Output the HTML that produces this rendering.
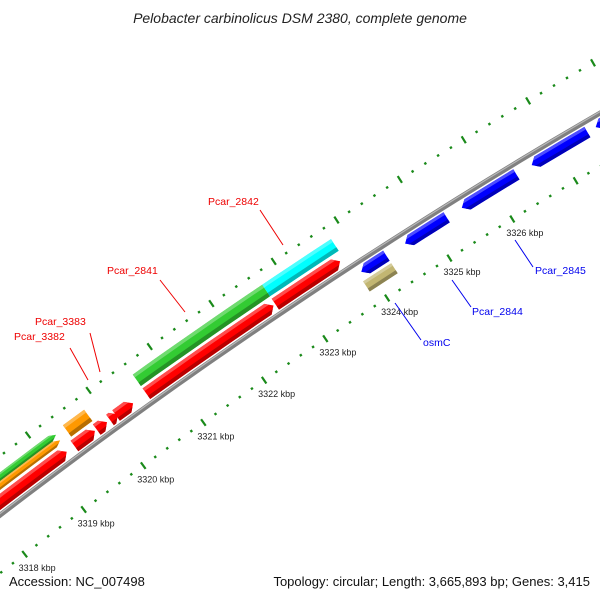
<!DOCTYPE html>
<html><head><meta charset="utf-8"><style>
html,body{margin:0;padding:0;background:#fff;width:600px;height:600px;overflow:hidden;}
svg{display:block;font-family:"Liberation Sans",sans-serif;overflow:hidden;}
</style></head><body>
<svg id="map" width="600" height="600" viewBox="0 0 600 600">
<defs id="defs"></defs>
<text x="300" y="23" text-anchor="middle" font-size="14" font-style="italic" fill="#222">Pelobacter carbinolicus DSM 2380, complete genome</text>
<g id="ticks"></g>
<g id="backbone"></g>
<g id="features"></g>
<g id="labels"></g>
<text x="9" y="586" font-size="13" fill="#111">Accession: NC_007498</text>
<text x="590" y="586" text-anchor="end" font-size="13" fill="#111">Topology: circular; Length: 3,665,893 bp; Genes: 3,415</text>
</svg>
<script>
// data (kbp)
const featStart = [3316.0, 3316.0, 3316.0, 3319.45, 3319.41, 3319.78, 3320.0, 3320.1, 3320.6, 3322.7, 3320.6, 3322.7, 3323.9, 3324.6, 3325.5, 3326.6, 3327.6, 3323.85, 3327.7];
const featEnd   = [3319.3, 3319.3, 3319.28, 3319.8, 3319.75, 3319.95, 3320.13, 3320.38, 3322.67, 3323.74, 3322.7, 3323.8, 3324.3, 3325.26, 3326.36, 3327.47, 3329.0, 3324.3, 3329.0];
const featTrack = ["green-lane", "orange-lane", "red", "gc", "red", "red", "red", "red", "red", "red", "gc", "gc", "blue", "blue", "blue", "blue", "blue", "khaki", "khaki"];
const featColor = ["#3c3", "#f90", "#f00", "#f90", "#f00", "#f00", "#f00", "#f00", "#f00", "#f00", "#3c3", "#0ff", "#00f", "#00f", "#00f", "#00f", "#00f", "#c2b672", "#0ff"];
const featStrand = [1, 1, 1, 0, 1, 1, 1, 1, 1, 1, 0, 0, -1, -1, -1, -1, -1, 0, 0];
const featName = ["gene-green-left", "gene-orange-left", "gene-red-left", "gene-orange-block", "gene-red-a", "gene-red-b", "gene-red-c", "gene-red-d", "gene-red-2841", "gene-red-2842", "gene-pcar-2841", "gene-pcar-2842", "gene-osmc-blue", "gene-pcar-2844", "gene-pcar-2845", "gene-blue-4", "gene-blue-5", "gene-osmc", "gene-cyan-right"];
const tickLabelKbp = [3318, 3319, 3320, 3321, 3322, 3323, 3324, 3325, 3326];

const trackOff = {"red":[4,17], "gc":[20,34], "green-lane":[27,34], "orange-lane":[20,27], "blue":[-16,-4], "khaki":[-31,-19]};
const NS = "http://www.w3.org/2000/svg";
function pt(kbp, off){
  const a = (34.5 - 0.75*(kbp-3322))*Math.PI/180;
  const r = 5699 + off;
  return [3466 - r*Math.sin(a), 5039 - r*Math.cos(a)];
}
function mk(tag, attrs, parent){
  const e = document.createElementNS(NS, tag);
  for (const k in attrs) e.setAttribute(k, attrs[k]);
  parent.appendChild(e); return e;
}
function ps(a){return a.map(p=>p[0].toFixed(1)+","+p[1].toFixed(1)).join(" ");}

// tick rings
const tg = document.getElementById("ticks");
for (let i = 0; i <= 65; i++) {
  const k = 3316 + i*0.2;
  const major = (i % 5 === 0);
  [-46, 47].forEach(off => {
    const h = major ? 4 : 1.2;
    const p1 = pt(k, off - h), p2 = pt(k, off + h);
    const l = mk("line", {x1:p1[0], y1:p1[1], x2:p2[0], y2:p2[1], stroke:"#1a8a1a", "stroke-width": major ? 2.2 : 2.4}, tg);
    
    
  });
}
tickLabelKbp.forEach(k => {
  const p = pt(k, -46);
  const t = mk("text", {x:p[0]-6, y:p[1]+17, "font-size":9, fill:"#222"}, tg);
  t.textContent = k + " kbp";
  
  
});

// backbone
const bg = document.getElementById("backbone");
const bpts = []; for (let k = 3316; k <= 3329; k += 0.5) bpts.push(pt(k, 0));
const b1 = mk("polyline", {points:ps(bpts), fill:"none", stroke:"#808080", "stroke-width":5}, bg);


const bpts2 = []; for (let k = 3316; k <= 3329; k += 0.5) bpts2.push(pt(k, 1.2));
const b2 = mk("polyline", {points:ps(bpts2), fill:"none", stroke:"#b8b8b8", "stroke-width":1.2}, bg);



// features
const fg = document.getElementById("features");
const defs = document.getElementById("defs");
function shade(c, f){
  let h = c.replace("#",""); if (h.length===3) h = h.split("").map(x=>x+x).join("");
  const n = [0,2,4].map(i=>parseInt(h.substr(i,2),16));
  return "rgb(" + n.map(v=>Math.round(f<1 ? v*f : v+(255-v)*(f-1))).join(",") + ")";
}
function band(s, e, lo, hi, strand){
  const n = Math.max(2, Math.ceil((e-s)/0.25));
  const head = 0.09;
  const top = [], bot = [];
  let s2 = s, e2 = e;
  if (strand === 1) e2 = Math.max(s, e-head);
  if (strand === -1) s2 = Math.min(e, s+head);
  for (let i=0;i<=n;i++){ const k = s2+(e2-s2)*i/n; top.push(pt(k,hi)); bot.push(pt(k,lo)); }
  const poly = top.slice();
  if (strand === 1) poly.push(pt(e,(lo+hi)/2));
  poly.push(...bot.reverse());
  if (strand === -1) poly.push(pt(s,(lo+hi)/2));
  return poly;
}
for (let i = 0; i < featStart.length; i++) {
  const [lo, hi] = trackOff[featTrack[i]];
  const shape = ps(band(featStart[i], featEnd[i], lo, hi, featStrand[i]));
  const cp = mk("clipPath", {id:"cp"+i}, defs);
  mk("polygon", {points:shape}, cp);
  const g = mk("g", {}, fg);
  
  
  const main = mk("polygon", {points:shape, fill:featColor[i]}, g);
  
  
  const sub = mk("g", {"clip-path":"url(#cp"+i+")"}, g);
  const dark = mk("polygon", {points:ps(band(featStart[i]-0.2, featEnd[i]+0.2, lo-2, lo+(hi-lo)*0.3, 0)), fill:shade(featColor[i],0.72)}, sub);
  
  
  const lite = mk("polygon", {points:ps(band(featStart[i]-0.2, featEnd[i]+0.2, hi-(hi-lo)*0.25, hi+2, 0)), fill:shade(featColor[i],1.3)}, sub);
  
  
}

// labels
const lg = document.getElementById("labels");
const labText = ["Pcar_2842", "Pcar_2841", "Pcar_3383", "Pcar_3382", "osmC", "Pcar_2844", "Pcar_2845"];
const labColor = ["#e00", "#e00", "#e00", "#e00", "#00e", "#00e", "#00e"];
const labX = [208, 107, 35, 14, 423, 472, 535];
const labY = [205, 274, 325, 340, 346, 315, 274];
const lineSeg = [[260,210,283,245],[160,280,185,312],[90,333,100,372],[70,348,88,380],[395,303,421,340],[452,280,471,307],[515,240,533,267]];
labText.forEach((s, i) => {
  const l = mk("line", {x1:lineSeg[i][0], y1:lineSeg[i][1], x2:lineSeg[i][2], y2:lineSeg[i][3], stroke:labColor[i], "stroke-width":1}, lg);
  
  
  const t = mk("text", {x:labX[i], y:labY[i], "font-size":10.5, fill:labColor[i]}, lg);
  t.textContent = s;
  
  
});
</script>
</body></html>
